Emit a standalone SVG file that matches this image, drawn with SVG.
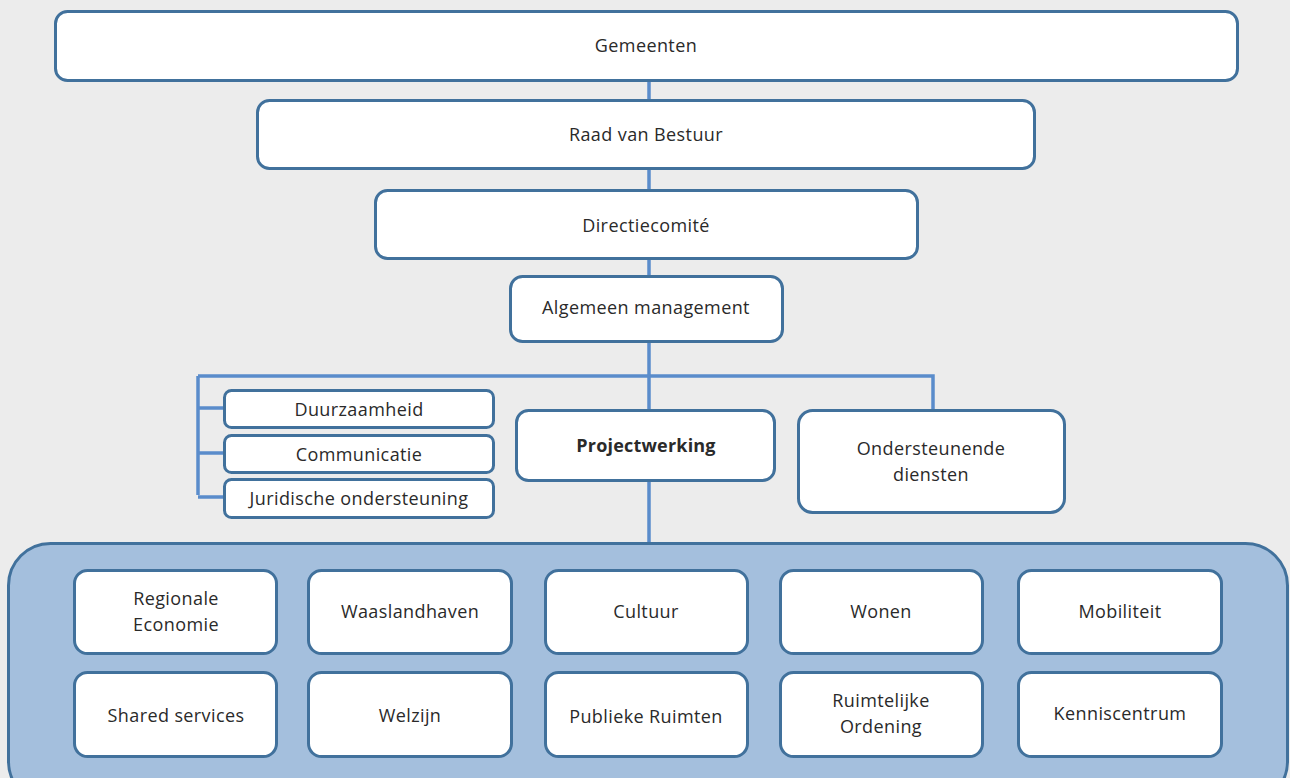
<svg xmlns="http://www.w3.org/2000/svg" width="1290" height="778" viewBox="0 0 1290 778">
<style>
.bg{fill:#ececec}
.box{fill:#ffffff;stroke:#41719c;stroke-width:3}
.cont{fill:#a4bfdd;stroke:#41719c;stroke-width:3}
.conn{fill:none;stroke:#5a8ccb;stroke-width:3.5}
text{font-family:"Open Sans","Noto Sans","DejaVu Sans",sans-serif;font-size:18px;letter-spacing:0.4px;fill:#2a2a2a;text-anchor:middle;dominant-baseline:central}
.b{font-weight:bold;letter-spacing:0.2px}
</style>
<rect class="bg" x="0" y="0" width="1290" height="778"/>
<g id="connectors">
<path class="conn" d="M649,80 V100 M649,168 V190 M649,258 V277 M649,341 V543 M198,376 H933 V410 M198,376 V495 M198,408 H225 M198,453 H225 M198,497 H225"/>
</g>
<g id="gemeenten"><rect class="box" x="55.5" y="11.5" width="1182" height="69" rx="12"/><text x="646" y="45">Gemeenten</text></g>
<g id="raad"><rect class="box" x="257.5" y="100.5" width="777" height="68" rx="12"/><text x="646" y="134">Raad van Bestuur</text></g>
<g id="directie"><rect class="box" x="375.5" y="190.5" width="542" height="68" rx="12"/><text x="646" y="225">Directiecomité</text></g>
<g id="algemeen"><rect class="box" x="510.5" y="276.5" width="272" height="65" rx="12"/><text x="646" y="307">Algemeen management</text></g>
<g id="duurzaamheid"><rect class="box" x="224.5" y="390.5" width="269" height="37" rx="7"/><text x="359" y="409">Duurzaamheid</text></g>
<g id="communicatie"><rect class="box" x="224.5" y="435.5" width="269" height="37" rx="7"/><text x="359" y="454">Communicatie</text></g>
<g id="juridische"><rect class="box" x="224.5" y="479.5" width="269" height="38" rx="7"/><text x="359" y="498">Juridische ondersteuning</text></g>
<g id="projectwerking"><rect class="box" x="516.5" y="410.5" width="258" height="70" rx="12"/><text class="b" x="646" y="445">Projectwerking</text></g>
<g id="ondersteunende"><rect class="box" x="798.5" y="410.5" width="266" height="102" rx="14"/><text x="931" y="448">Ondersteunende</text><text x="931" y="474">diensten</text></g>
<g id="container"><rect class="cont" x="8.5" y="543.5" width="1279" height="260" rx="42"/></g>
<g id="regionale"><rect class="box" x="74.5" y="570.5" width="202" height="83" rx="13"/><text x="176" y="598">Regionale</text><text x="176" y="624">Economie</text></g>
<g id="waaslandhaven"><rect class="box" x="308.5" y="570.5" width="203" height="83" rx="13"/><text x="410" y="611">Waaslandhaven</text></g>
<g id="cultuur"><rect class="box" x="545.5" y="570.5" width="202" height="83" rx="13"/><text x="646" y="611">Cultuur</text></g>
<g id="wonen"><rect class="box" x="780.5" y="570.5" width="202" height="83" rx="13"/><text x="881" y="611">Wonen</text></g>
<g id="mobiliteit"><rect class="box" x="1018.5" y="570.5" width="203" height="83" rx="13"/><text x="1120" y="611">Mobiliteit</text></g>
<g id="shared"><rect class="box" x="74.5" y="672.5" width="202" height="84" rx="13"/><text x="176" y="715">Shared services</text></g>
<g id="welzijn"><rect class="box" x="308.5" y="672.5" width="203" height="84" rx="13"/><text x="410" y="715">Welzijn</text></g>
<g id="publieke"><rect class="box" x="545.5" y="672.5" width="202" height="84" rx="13"/><text x="646" y="716">Publieke Ruimten</text></g>
<g id="ruimtelijke"><rect class="box" x="780.5" y="672.5" width="202" height="84" rx="13"/><text x="881" y="700">Ruimtelijke</text><text x="881" y="726">Ordening</text></g>
<g id="kenniscentrum"><rect class="box" x="1018.5" y="672.5" width="203" height="84" rx="13"/><text x="1120" y="713">Kenniscentrum</text></g>
</svg>
